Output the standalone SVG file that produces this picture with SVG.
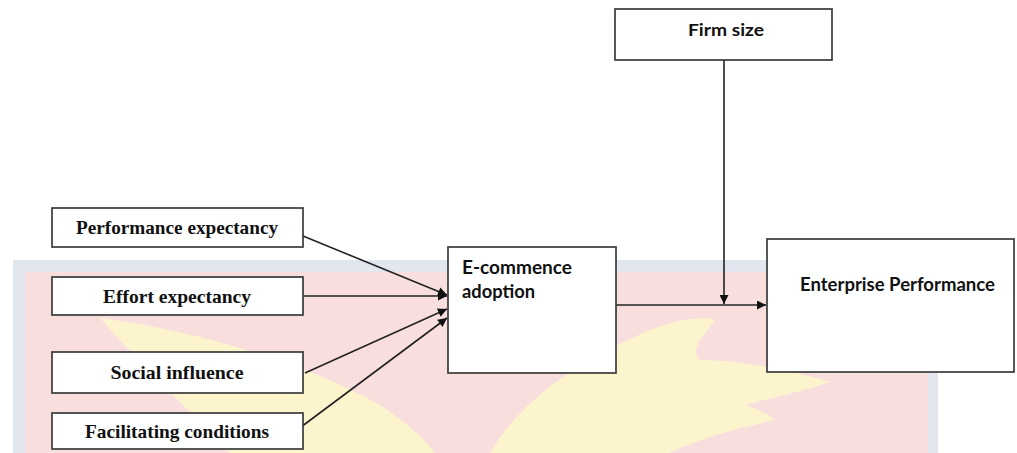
<svg xmlns="http://www.w3.org/2000/svg" width="1017" height="453" viewBox="0 0 1017 453">
<style>
.box{fill:#fff;stroke:#3a3a3a;stroke-width:1.7}
.ser{font-family:"Liberation Serif","Times New Roman",serif;font-weight:700;font-size:19px;fill:#111;text-anchor:middle}
.san{font-family:Lato,"Liberation Sans",sans-serif;font-weight:700;font-size:17px;fill:#111}
.big{font-size:19px}
.ln{stroke:#222;stroke-width:1.6;fill:none}
.wing{fill:#fcf4cc}
</style>
<defs>
<marker id="ah" viewBox="0 0 10 10" refX="10" refY="5" markerWidth="10" markerHeight="9" markerUnits="userSpaceOnUse" orient="auto">
<path d="M0,0 L10,5 L0,10 Z" fill="#111"/>
</marker>
</defs>
<rect width="1017" height="453" fill="#fff"/>
<g id="watermark">
<rect x="13" y="260" width="925" height="200" fill="#e2e6ef"/>
<rect x="25" y="272" width="903" height="190" fill="#f9dede"/>
<path class="wing" d="M100 318 C190 330 300 360 380 405 C410 425 425 440 435 453 L230 453 C200 420 150 375 100 318 Z"/>
<path class="wing" d="M150 335 C230 345 300 365 350 390 L300 395 C250 380 200 360 150 335 Z" opacity="0.7"/>
<path class="wing" d="M490 453 C520 400 580 360 650 330 C690 315 710 318 715 320 C700 340 690 350 700 360 C740 360 790 370 830 382 C800 392 770 398 745 405 C760 410 770 415 775 420 C740 428 700 438 670 453 Z"/>
</g>
<g id="connectors">
<line class="ln" x1="303" y1="236" x2="447" y2="295" marker-end="url(#ah)"/>
<line class="ln" x1="303" y1="296" x2="447" y2="296" marker-end="url(#ah)"/>
<line class="ln" x1="305" y1="373" x2="447" y2="309" marker-end="url(#ah)"/>
<line class="ln" x1="301" y1="427" x2="447" y2="318" marker-end="url(#ah)"/>
<line class="ln" x1="616" y1="305" x2="766" y2="305" marker-end="url(#ah)"/>
<line class="ln" x1="724" y1="60" x2="724" y2="304" marker-end="url(#ah)"/>
</g>
<g id="performance-expectancy">
<rect class="box" x="52" y="208" width="251" height="39"/>
<text class="ser" x="177" y="234" textLength="202" lengthAdjust="spacingAndGlyphs">Performance expectancy</text>
</g>
<g id="effort-expectancy">
<rect class="box" x="52" y="277" width="251" height="38"/>
<text class="ser" x="177" y="302.5" textLength="148" lengthAdjust="spacingAndGlyphs">Effort expectancy</text>
</g>
<g id="social-influence">
<rect class="box" x="52" y="352" width="251" height="41"/>
<text class="ser" x="177" y="379" textLength="133" lengthAdjust="spacingAndGlyphs">Social influence</text>
</g>
<g id="facilitating-conditions">
<rect class="box" x="52" y="413" width="251" height="36"/>
<text class="ser" x="177" y="438" textLength="184" lengthAdjust="spacingAndGlyphs">Facilitating conditions</text>
</g>
<g id="ecommerce-adoption">
<rect class="box" x="448" y="247" width="168" height="126"/>
<text class="san big" x="462" y="274" textLength="110" lengthAdjust="spacingAndGlyphs">E-commence</text>
<text class="san big" x="462" y="298" textLength="73" lengthAdjust="spacingAndGlyphs">adoption</text>
</g>
<g id="firm-size">
<rect class="box" x="615" y="9" width="217" height="51"/>
<text class="san" x="688" y="36" textLength="76" lengthAdjust="spacingAndGlyphs">Firm size</text>
</g>
<g id="enterprise-performance">
<rect class="box" x="767" y="239" width="247" height="133"/>
<text class="san big" x="800" y="291" textLength="195" lengthAdjust="spacingAndGlyphs">Enterprise Performance</text>
</g>
</svg>
